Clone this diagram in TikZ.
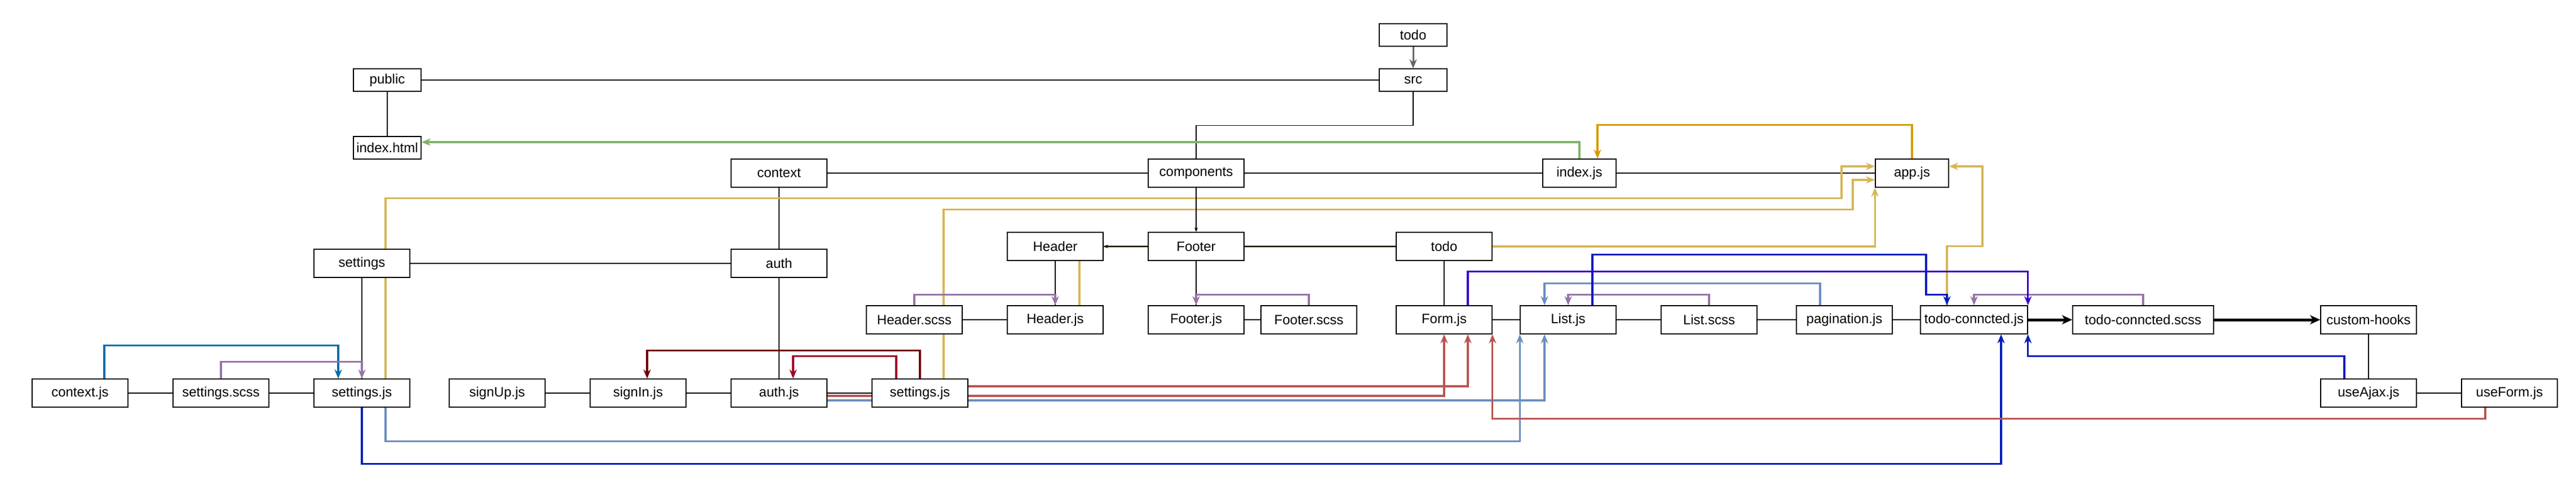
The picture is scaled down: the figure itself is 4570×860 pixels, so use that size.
\documentclass[tikz,border=0pt]{standalone}
\usepackage{fontspec}
\setmainfont{Liberation Sans}
\usetikzlibrary{arrows.meta,backgrounds}
\definecolor{cyel}{HTML}{D6B656}
\definecolor{cora}{HTML}{D79B00}
\definecolor{cgrn}{HTML}{82B366}
\definecolor{cpur}{HTML}{9673A6}
\definecolor{clbl}{HTML}{6C8EBF}
\definecolor{cdbl}{HTML}{001DBC}
\definecolor{cind}{HTML}{3700CC}
\definecolor{cred}{HTML}{B85450}
\definecolor{cdrd}{HTML}{6F0000}
\definecolor{ccrm}{HTML}{A20025}
\definecolor{cblu}{HTML}{006EAF}
\definecolor{cgry}{HTML}{666666}
\begin{document}
\begin{tikzpicture}[x=0.5pt,y=-0.5pt,
  box/.style={draw, line width=0.75pt, fill=white, minimum width=85pt, minimum height=25pt, inner sep=0pt, font=\fontsize{12}{14}\selectfont},
  smallbox/.style={box, minimum width=60pt, minimum height=20pt},
  midbox/.style={box, minimum width=65pt},
  tree/.style={line width=0.6pt, black},
  arr/.style={-{Stealth[length=8pt,width=6.5pt,inset=2.5pt]}},
  ce/.style={line width=1.6pt, arr},
  thickarr/.style={line width=2.5pt, -{Stealth[length=9pt,width=8pt,inset=2.5pt]}},
  smallarr/.style={line width=0.6pt, -{Stealth[length=4pt,width=3pt]}}]
\useasboundingbox (0,0) rectangle (4570,860);
% nodes
\node[smallbox] (todoTop) at (2507,62) {todo};
\node[smallbox] (src) at (2507,142) {src};
\node[smallbox] (public) at (687,142) {public};
\node[smallbox] (indexhtml) at (687,262) {index.html};
\node[box] (context) at (1382,307) {context};
\node[box] (components) at (2122,307) {components};
\node[midbox] (indexjs) at (2802,307) {index.js};
\node[midbox] (appjs) at (3392,307) {app.js};
\node[box] (settingsF) at (642,467) {settings};
\node[box] (auth) at (1382,467) {auth};
\node[box] (Header) at (1872,437) {Header};
\node[box] (Footer) at (2122,437) {Footer};
\node[box] (todoMid) at (2562,437) {todo};
\node[box] (Headerscss) at (1622,567) {Header.scss};
\node[box] (Headerjs) at (1872,567) {Header.js};
\node[box] (Footerjs) at (2122,567) {Footer.js};
\node[box] (Footerscss) at (2322,567) {Footer.scss};
\node[box] (Formjs) at (2562,567) {Form.js};
\node[box] (Listjs) at (2782,567) {List.js};
\node[box] (Listscss) at (3032,567) {List.scss};
\node[box] (paginationjs) at (3272,567) {pagination.js};
\node[box, minimum width=95pt] (tcjs) at (3502,567) {todo-conncted.js};
\node[box, minimum width=125pt] (tcscss) at (3802,567) {todo-conncted.scss};
\node[box] (customhooks) at (4202,567) {custom-hooks};
\node[box] (contextjs) at (142,697) {context.js};
\node[box] (settingsscss) at (392,697) {settings.scss};
\node[box] (settingsjs) at (642,697) {settings.js};
\node[box] (signUp) at (882,697) {signUp.js};
\node[box] (signIn) at (1132,697) {signIn.js};
\node[box] (authjs) at (1382,697) {auth.js};
\node[box] (settingsjsB) at (1632,697) {settings.js};
\node[box] (useAjax) at (4202,697) {useAjax.js};
\node[box] (useForm) at (4452,697) {useForm.js};
\begin{scope}[on background layer]
% tree lines
\draw[tree] (public) -- (src);
\draw[tree] (public) -- (indexhtml);
\draw[tree] (src.south) -- ++(0,60) -| (components.north);
\draw[tree] (context) -- (components);
\draw[tree] (components) -- (indexjs);
\draw[tree] (indexjs) -- (appjs);
\draw[tree] (context) -- (auth);
\draw[tree] (settingsF) -- (auth);
\draw[tree] (settingsF) -- (settingsjs);
\draw[tree] (auth) -- (authjs);
\draw[tree] (Header) -- (Headerjs);
\draw[tree] (Footer) -- (Footerjs);
\draw[tree] (todoMid) -- (Formjs);
\draw[tree] (customhooks) -- (useAjax);
\draw[tree] (useAjax) -- (useForm);
\draw[tree] (contextjs) -- (settingsscss);
\draw[tree] (settingsscss) -- (settingsjs);
\draw[tree] (signUp) -- (signIn);
\draw[tree] (signIn) -- (authjs);
\draw[tree] (authjs) -- (settingsjsB);
\draw[tree] (Headerscss) -- (Headerjs);
\draw[tree] (Footerjs) -- (Footerscss);
\draw[tree] (Formjs) -- (Listjs);
\draw[tree] (Listjs) -- (Listscss);
\draw[tree] (Listscss) -- (paginationjs);
\draw[tree] (paginationjs) -- (tcjs);
% yellow
\draw[ce, cyel] ([xshift=21.5pt]Headerjs.north) |- (todoMid.east) -| (appjs.south west);
\draw[ce, cyel] ([xshift=21pt]settingsjs.north) -- ++(0,-320) -- ++(2583,0) |- ([yshift=6pt]appjs.west);
\draw[ce, cyel] ([xshift=21pt]settingsjsB.north) -- ++(0,-300) -- ++(1613,0) |- ([yshift=-6pt]appjs.west);
\draw[ce, cyel] ([xshift=-24pt]tcjs.north) -- ++(0,-105) -- ++(63,0) |- ([yshift=6pt]appjs.east);
% black over yellow
\draw[smallarr] (Footer) -- (Header);
\draw[tree] (Footer) -- (todoMid);
\draw[smallarr] (components) -- (Footer);
% gray
\draw[line width=1.5pt, cgry, arr] (todoTop) -- (src);
% orange
\draw[ce, cora] (appjs.north) -- ++(0,-60) -| ([xshift=16pt]indexjs.north);
% green
\draw[ce, cgrn] (indexjs.north) |- ([yshift=5pt]indexhtml.east);
% context.js blue
\draw[ce, cblu] ([xshift=21.5pt]contextjs.north) -- ++(0,-59) -| ([xshift=-21pt]settingsjs.north);
% purple
\draw[ce, cpur] (settingsscss.north) -- ++(0,-30) -| (settingsjs.north);
\draw[ce, cpur] (Headerscss.north) -- ++(0,-19) -| (Headerjs.north);
\draw[ce, cpur] (Footerscss.north) -- ++(0,-19) -| (Footerjs.north);
\draw[ce, cpur] (Listscss.north) -- ++(0,-19) -| (Listjs.north);
\draw[ce, cpur] (tcscss.north) -- ++(0,-19) -| (tcjs.north);
% light blue
\draw[ce, clbl] ([xshift=-21.5pt]paginationjs.north) -- ++(0,-39) -| ([xshift=-21pt]Listjs.north);
\draw[ce, clbl] ([xshift=21pt]settingsjs.south) -- ++(0,60) -| (Listjs.south west);
\draw[ce, clbl] ([yshift=-6.5pt]authjs.east) -| ([xshift=-21pt]Listjs.south);
% dark blue
\draw[ce, cdbl] ([xshift=21.5pt]Listjs.north) -- ++(0,-90) -- ++(592,0) -- ++(0,71) -| ([xshift=-24pt]tcjs.north);
\draw[ce, cdbl] ([xshift=-21.5pt]useAjax.north) -- ++(0,-40) -| (tcjs.south east);
\draw[ce, cdbl] (settingsjs.south) -- ++(0,100) -| ([xshift=24pt]tcjs.south);
% indigo
\draw[ce, cind] ([xshift=21pt]Formjs.north) -- ++(0,-60) -| (tcjs.north east);
% red
\draw[ce, cred] ([xshift=-21.5pt]useForm.south) -- ++(0,20) -| (Formjs.south east);
\draw[ce, cred] ([yshift=6pt]settingsjsB.east) -| ([xshift=21pt]Formjs.south);
\draw[ce, cred] ([yshift=-2.5pt]authjs.east) -| (Formjs.south);
% dark red / crimson
\draw[ce, cdrd] (settingsjsB.north) -- ++(0,-50) -| ([xshift=8pt]signIn.north);
\draw[ce, ccrm] ([xshift=-21pt]settingsjsB.north) -- ++(0,-40) -| ([xshift=12.5pt]authjs.north);
% thick black
\draw[thickarr] (tcjs) -- (tcscss);
\draw[thickarr] (tcscss) -- (customhooks);
\end{scope}
\end{tikzpicture}
\end{document}
